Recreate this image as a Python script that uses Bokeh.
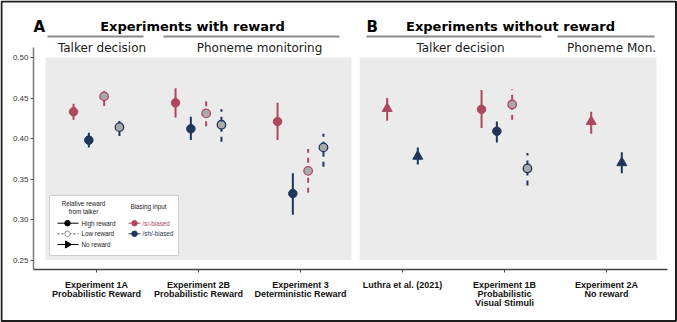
import math
from bokeh.plotting import figure
from bokeh.models import Range1d, FixedTicker, ColumnDataSource
from bokeh.core.properties import value
from bokeh.embed import file_html
from bokeh.resources import INLINE

# ---- data -----------------------------------------------------------------
experiments = [
    "Experiment 1A\nProbabilistic Reward",
    "Experiment 2B\nProbabilistic Reward",
    "Experiment 3\nDeterministic Reward",
    "Luthra et al. (2021)",
    "Experiment 1B\nProbabilistic\nVisual Stimuli",
    "Experiment 2A\nNo reward",
]
exp_index = [1, 1, 1, 1, 2, 2, 2, 2, 3, 3, 3, 3, 4, 4, 5, 5, 5, 5, 6, 6]
bias = ["s", "sh", "s", "sh", "s", "sh", "s", "sh", "s", "sh", "s", "sh",
        "s", "sh", "s", "sh", "s", "sh", "s", "sh"]
reward = ["high", "high", "low", "low", "high", "high", "low", "low",
          "high", "high", "low", "low", "none", "none",
          "high", "high", "low", "low", "none", "none"]
mean = [0.433, 0.398, 0.452, 0.414, 0.444, 0.412, 0.431, 0.417,
        0.421, 0.332, 0.360, 0.389, 0.437, 0.378,
        0.436, 0.409, 0.442, 0.363, 0.421, 0.370]
lower = [0.423, 0.389, 0.440, 0.403, 0.426, 0.398, 0.415, 0.396,
         0.398, 0.306, 0.333, 0.365, 0.422, 0.368,
         0.413, 0.395, 0.423, 0.342, 0.406, 0.357]
upper = [0.443, 0.407, 0.464, 0.425, 0.462, 0.427, 0.448, 0.436,
         0.444, 0.357, 0.387, 0.406, 0.450, 0.389,
         0.460, 0.421, 0.461, 0.382, 0.433, 0.383]
y_ticks = [0.25, 0.30, 0.35, 0.40, 0.45, 0.50]

# ---- styling --------------------------------------------------------------
RED = "#b0475f"
BLUE = "#1f3658"
GRAY_FILL = "#a9a9a9"
PANEL = "#ebebeb"
HEAD_FONT = "DejaVu Sans"
BODY_FONT = "Liberation Sans"

# dodge offsets within an experiment
dodge4 = {("s", "high"): -0.225, ("sh", "high"): -0.075,
          ("s", "low"): 0.075, ("sh", "low"): 0.225}
dodge2 = {"s": -0.15, "sh": 0.15}


def xpos(i):
    if reward[i] == "none":
        return exp_index[i] + dodge2[bias[i]]
    return exp_index[i] + dodge4[(bias[i], reward[i])]


# canvas-pixel helpers for annotation placement (category 1 at px 96,
# 102 px per category; 0.50 at px 57, 810 px per unit)
def fx(px):
    return 1 + (px - 96) / 102.0


def fy(py):
    return 0.5 - (py - 57) / 810.0


W, H = 677, 322
# the plotting frame fills the whole canvas; axes are pinned inside it
p = figure(width=W, height=H, output_backend="svg", toolbar_location=None,
           x_range=Range1d(fx(0), fx(W)), y_range=Range1d(fy(H), fy(0)),
           min_border=0)
p.background_fill_color = "white"
p.border_fill_color = "white"
p.outline_line_color = None
p.grid.visible = False

# axes
xa = p.xaxis[0]
xa.fixed_location = fy(269)
xa.bounds = (fx(33), fx(667))
xa.ticker = FixedTicker(ticks=list(range(1, len(experiments) + 1)))
xa.major_label_overrides = {i + 1: lab for i, lab in enumerate(experiments)}
xa.major_label_text_font = BODY_FONT
xa.major_label_text_font_style = "bold"
xa.major_label_text_font_size = "9px"
xa.major_label_text_line_height = 0.9
xa.major_label_text_color = "#111111"
xa.major_label_standoff = 7
xa.axis_line_color = "#444444"
xa.axis_line_width = 1.5
xa.major_tick_line_color = "#444444"
xa.major_tick_out = 3
xa.major_tick_in = 0
xa.minor_tick_line_color = None

ya = p.yaxis[0]
ya.fixed_location = fx(33)
ya.ticker = FixedTicker(ticks=y_ticks)
ya.major_label_overrides = {t: f"{t:.2f}" for t in y_ticks}
ya.bounds = (fy(269), fy(47))
ya.major_label_text_font = BODY_FONT
ya.major_label_text_font_size = "8px"
ya.major_label_text_color = "#333333"
ya.major_label_standoff = 2
ya.axis_line_color = "#7a7a7a"
ya.axis_line_width = 1.5
ya.major_tick_line_color = "#555555"
ya.major_tick_out = 3
ya.major_tick_in = 0
ya.minor_tick_line_color = None

# facet panels
p.quad(left=[0.5, 3.58], right=[3.5, 6.49], bottom=[0.25, 0.25],
       top=[0.50, 0.50], fill_color=PANEL, line_color=None, level="underlay")

# error bars and points
n = len(mean)
xs = [xpos(i) for i in range(n)]
cols = [RED if b == "s" else BLUE for b in bias]
for dash_kind, dash in (("solid", "solid"), ("dashed", "5 5")):
    idx = [i for i in range(n)
           if (reward[i] == "low") == (dash_kind == "dashed")]
    src = ColumnDataSource(dict(x=[xs[i] for i in idx],
                                lo=[lower[i] for i in idx],
                                hi=[upper[i] for i in idx],
                                c=[cols[i] for i in idx]))
    p.segment(x0="x", y0="lo", x1="x", y1="hi", source=src,
              line_color="c", line_width=2, line_dash=dash)

for kind in ("high", "low", "none"):
    idx = [i for i in range(n) if reward[i] == kind]
    src = ColumnDataSource(dict(x=[xs[i] for i in idx],
                                y=[mean[i] for i in idx],
                                c=[cols[i] for i in idx]))
    if kind == "high":
        p.scatter("x", "y", source=src, marker="circle", size=8.5,
                  fill_color="c", line_color="c", line_width=1)
    elif kind == "low":
        p.scatter("x", "y", source=src, marker="circle", size=8.5,
                  fill_color=GRAY_FILL, line_color="c", line_width=1.3)
    else:
        p.scatter("x", "y", source=src, marker="triangle", size=10,
                  fill_color="c", line_color="c", line_width=1)

# ---- facet headers ----------------------------------------------------------
p.text(x=[fx(33), fx(366)], y=[fy(26), fy(26)], text=["A", "B"],
       text_font=value(HEAD_FONT), text_font_style="bold",
       text_font_size="15px", text_color="black",
       text_align="left", text_baseline="alphabetic")
p.text(x=[fx(192), fx(510)], y=[fy(26), fy(26)],
       text=["Experiments with reward", "Experiments without reward"],
       text_font=value(HEAD_FONT), text_font_style="bold",
       text_font_size="13px", text_color="black",
       text_align="center", text_baseline="alphabetic")
p.segment(x0=[fx(47), fx(163), fx(366), fx(557)],
          x1=[fx(143), fx(339), fx(541), fx(654)],
          y0=[fy(36)] * 4, y1=[fy(36)] * 4,
          line_color="#8a8a8a", line_width=2)
p.text(x=[fx(101.5), fx(259), fx(460), fx(611)], y=[fy(47.5)] * 4,
       text=["Talker decision", "Phoneme monitoring", "Talker decision",
             "Phoneme Mon."],
       text_font=value(HEAD_FONT), text_font_size="12px", text_color="#1a1a1a",
       text_align="center", text_baseline="alphabetic")

# ---- legend -----------------------------------------------------------------
p.quad(left=[fx(49)], right=[fx(178)], top=[fy(195)], bottom=[fy(255)],
       fill_color="white", line_color="#cfcfcf", line_width=1)
LEG = dict(text_font=value(BODY_FONT), text_font_size="6.3px",
           text_baseline="middle")
p.text(x=[fx(83), fx(83)], y=[fy(202.5), fy(210.5)],
       text=["Relative reward", "from talker"], text_align="center",
       text_color="#222222", **LEG)
p.text(x=[fx(148)], y=[fy(205.5)], text=["Biasing input"],
       text_align="center", text_color="#222222", **LEG)

rows = [fy(222.7), fy(233.3), fy(244)]
p.segment(x0=[fx(57), fx(57)], x1=[fx(78), fx(78)],
          y0=[rows[0], rows[2]], y1=[rows[0], rows[2]],
          line_color="black", line_width=1)
p.segment(x0=[fx(57)], x1=[fx(78)], y0=[rows[1]], y1=[rows[1]],
          line_color="#555555", line_width=1, line_dash="2 2")
p.scatter(x=[fx(67)], y=[rows[0]], marker="circle", size=5.5,
          fill_color="black", line_color="black")
p.scatter(x=[fx(67)], y=[rows[1]], marker="circle", size=5.5,
          fill_color="white", line_color="#777777", line_width=0.8)
p.scatter(x=[fx(67)], y=[rows[2]], marker="triangle", size=7,
          angle=-math.pi / 2, fill_color="black", line_color="black")
p.text(x=[fx(81)] * 3, y=rows, text=["High reward", "Low reward", "No reward"],
       text_align="left", text_color="#222222", **LEG)

p.segment(x0=[fx(128)] * 2, x1=[fx(140)] * 2, y0=rows[:2], y1=rows[:2],
          line_color=[RED, BLUE], line_width=1)
p.scatter(x=[fx(134)] * 2, y=rows[:2], marker="circle", size=5.5,
          fill_color=[RED, BLUE], line_color=[RED, BLUE])
p.text(x=[fx(142)] * 2, y=rows[:2], text=["/s/-biased", "/sh/-biased"],
       text_align="left", text_color=[RED, BLUE], **LEG)

# figure border
p.quad(left=[fx(1)], right=[fx(675.5)], top=[fy(1)], bottom=[fy(320.5)],
       fill_color=None, line_color="#1e1e1e", line_width=2)

open("out.html", "w").write(file_html(p, INLINE))
